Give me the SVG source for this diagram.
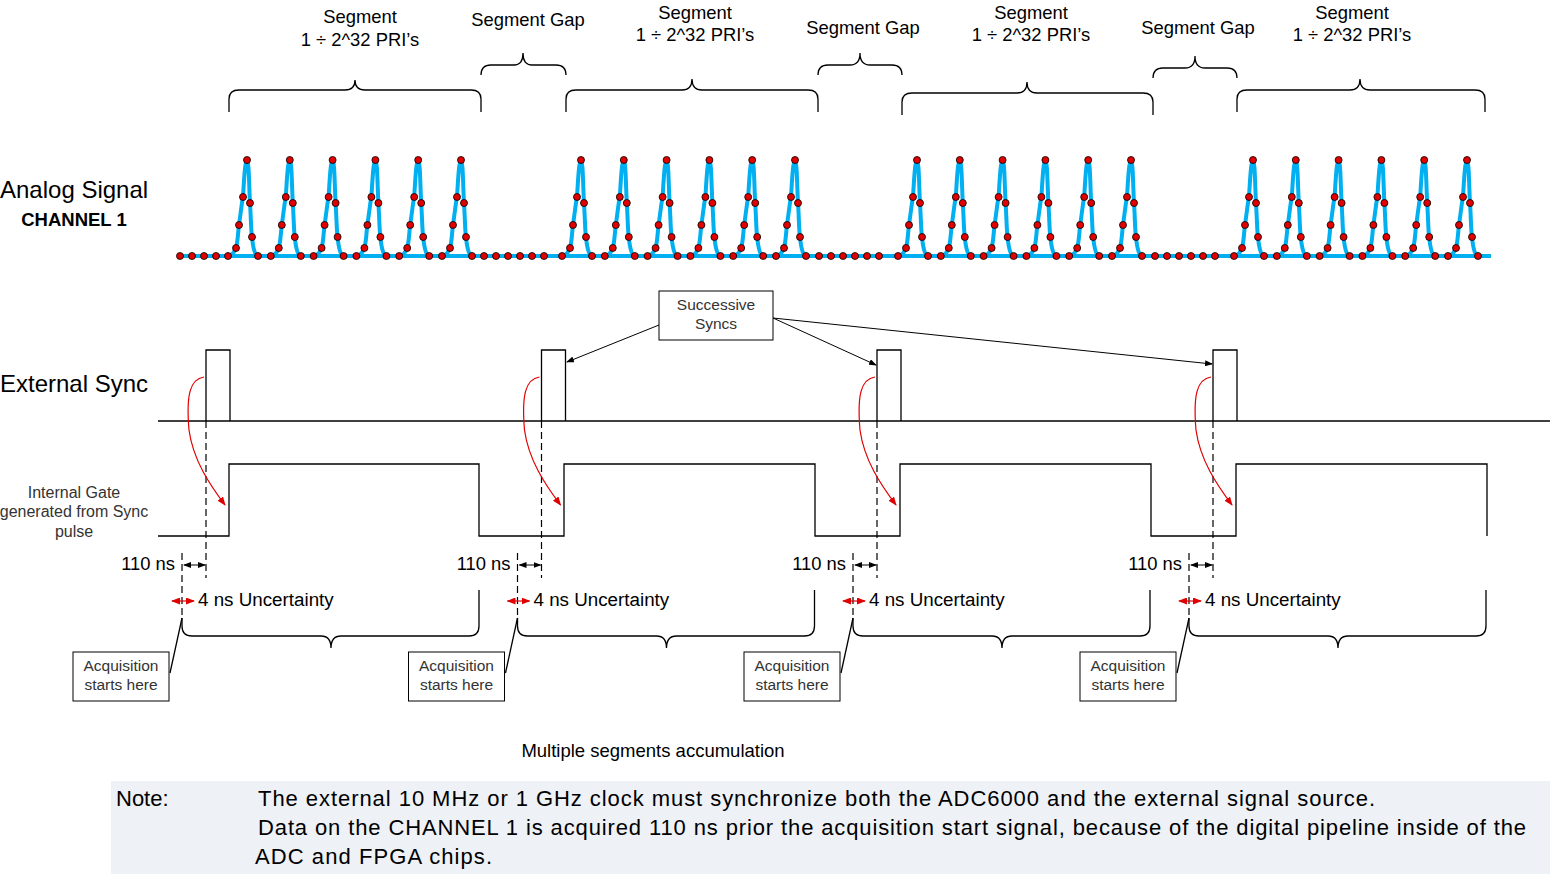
<svg xmlns="http://www.w3.org/2000/svg" xmlns:xlink="http://www.w3.org/1999/xlink" width="1550" height="874" viewBox="0 0 1550 874">
<style>
text{font-family:"Liberation Sans",Arial,sans-serif;fill:#000}
.s17{font-size:18.4px}
.s14{font-size:15.5px;fill:#333}
.ln{fill:none;stroke:#000;stroke-width:1.3}
.dash{fill:none;stroke:#000;stroke-width:1.2;stroke-dasharray:7,4}
.box{fill:#fff;stroke:#000;stroke-width:1}
.dot{fill:#e00000;stroke:#000;stroke-width:0.8}
.sig{fill:none;stroke:#00b0f0;stroke-width:4;stroke-linejoin:round}
.red{fill:none;stroke:#e00000;stroke-width:1.2}
</style>
<defs>
<marker id="ab" markerWidth="8" markerHeight="6" refX="7" refY="3" orient="auto-start-reverse" markerUnits="userSpaceOnUse"><path d="M0,0 L8,3 L0,6 z" fill="#000"/></marker>
<marker id="ar" markerWidth="9" markerHeight="7" refX="8" refY="3.5" orient="auto-start-reverse" markerUnits="userSpaceOnUse"><path d="M0,0 L9,3.5 L0,7 z" fill="#e00000"/></marker>
<g id="p">
<path class="sig" d="M-22,0 L-19,0 C-15,0 -13,-3 -11,-8 C-9,-15 -9,-25 -8,-31 C-6,-45 -5,-55 -4,-59 C-3,-75 -2,-96 0,-96 C2,-96 2,-70 3,-53 C4,-38 4,-25 5,-19 C6,-8 8,0 11,0 L24,0"/>
<circle class="dot" cx="-19" cy="0" r="3.5"/><circle class="dot" cx="-11" cy="-8" r="3.5"/><circle class="dot" cx="-8" cy="-31" r="3.5"/><circle class="dot" cx="-4" cy="-59" r="3.5"/><circle class="dot" cx="0" cy="-96" r="3.5"/><circle class="dot" cx="3" cy="-53" r="3.5"/><circle class="dot" cx="5" cy="-19" r="3.5"/><circle class="dot" cx="11" cy="0" r="3.5"/>
</g>
<g id="grp">
<use xlink:href="#p" x="0" y="256"/><use xlink:href="#p" x="42.8" y="256"/><use xlink:href="#p" x="85.6" y="256"/><use xlink:href="#p" x="128.4" y="256"/><use xlink:href="#p" x="171.2" y="256"/><use xlink:href="#p" x="214" y="256"/>
</g>
<g id="gapdots">
<circle class="dot" cx="0" cy="256" r="3.5"/><circle class="dot" cx="12" cy="256" r="3.5"/><circle class="dot" cx="24" cy="256" r="3.5"/><circle class="dot" cx="36" cy="256" r="3.5"/><circle class="dot" cx="48" cy="256" r="3.5"/><circle class="dot" cx="60" cy="256" r="3.5"/>
</g>
<g id="period">
<path class="ln" d="M206,421 V350 H230 V421"/>
<path class="dash" d="M206,421 V578"/>
<path class="dash" d="M182,553 V618"/>
<path class="ln" d="M182,618 L170,673"/>
<path class="ln" d="M479,590 V626 Q479,636 469,636 H341 Q331,636 331,648 Q331,636 321,636 H192 Q182,636 182,626 V618"/>
<rect class="box" x="73" y="652" width="96" height="49"/>
<text class="s14" x="121" y="671" text-anchor="middle">Acquisition</text>
<text class="s14" x="121" y="690" text-anchor="middle">starts here</text>
<text class="s17" x="175" y="570" text-anchor="end">110 ns</text>
<text class="s17" x="198" y="606" style="font-size:18.8px">4 ns Uncertainty</text>
<path class="ln" style="stroke-width:1" d="M184,565 H205" marker-start="url(#ab)" marker-end="url(#ab)"/>
<path class="red" d="M172,601 H194" marker-start="url(#ar)" marker-end="url(#ar)"/>
<path class="red" d="M204,377 C190,379 186,395 189,430 C193,460 210,485 225,505" marker-end="url(#ar)"/>
</g>
</defs>

<g id="labels">
<text x="0" y="198" style="font-size:24px">Analog Signal</text>
<text x="74" y="226" text-anchor="middle" style="font-size:18.5px;font-weight:bold">CHANNEL 1</text>
<text x="0" y="392" style="font-size:24px">External Sync</text>
<text class="s14" x="74" y="498" text-anchor="middle" style="font-size:16px">Internal Gate</text>
<text class="s14" x="74" y="517" text-anchor="middle" style="font-size:16px">generated from Sync</text>
<text class="s14" x="74" y="537" text-anchor="middle" style="font-size:16px">pulse</text>
</g>

<g id="segment-braces">
<path class="ln" d="M229,112 V99 Q229,90 239,90 H345 Q355,90 355,80 Q355,90 365,90 H471 Q481,90 481,99 V112"/>
<path class="ln" d="M481,75 Q481,65 491,65 H514 Q523,65 523,53 Q523,65 532,65 H556 Q566,65 566,75"/>
<path class="ln" d="M566,112 V99 Q566,90 576,90 H682 Q692,90 692,79 Q692,90 702,90 H808 Q818,90 818,99 V112"/>
<path class="ln" d="M818,75 Q818,65 828,65 H850 Q860,65 860,53 Q860,65 870,65 H892 Q902,65 902,75"/>
<path class="ln" d="M902,115 V102 Q902,93 912,93 H1017 Q1027,93 1027,82 Q1027,93 1037,93 H1143 Q1153,93 1153,102 V115"/>
<path class="ln" d="M1153,78 Q1153,68 1163,68 H1185 Q1195,68 1195,56 Q1195,68 1205,68 H1227 Q1237,68 1237,78"/>
<path class="ln" d="M1237,112 V99 Q1237,90 1247,90 H1350 Q1360,90 1360,79 Q1360,90 1370,90 H1475 Q1485,90 1485,99 V112"/>
<text class="s17" x="360" y="23" text-anchor="middle">Segment</text>
<text class="s17" x="360" y="46" text-anchor="middle">1 ÷ 2^32 PRI’s</text>
<text class="s17" x="528" y="26" text-anchor="middle">Segment Gap</text>
<text class="s17" x="695" y="19" text-anchor="middle">Segment</text>
<text class="s17" x="695" y="41" text-anchor="middle">1 ÷ 2^32 PRI’s</text>
<text class="s17" x="863" y="34" text-anchor="middle">Segment Gap</text>
<text class="s17" x="1031" y="19" text-anchor="middle">Segment</text>
<text class="s17" x="1031" y="41" text-anchor="middle">1 ÷ 2^32 PRI’s</text>
<text class="s17" x="1198" y="34" text-anchor="middle">Segment Gap</text>
<text class="s17" x="1352" y="19" text-anchor="middle">Segment</text>
<text class="s17" x="1352" y="41" text-anchor="middle">1 ÷ 2^32 PRI’s</text>
</g>

<g id="analog-signal">
<path class="sig" d="M178,256 H1490"/>
<use xlink:href="#grp" x="247"/><use xlink:href="#grp" x="581"/><use xlink:href="#grp" x="917"/><use xlink:href="#grp" x="1253"/>
<circle class="dot" cx="180" cy="256" r="3.5"/><circle class="dot" cx="192" cy="256" r="3.5"/><circle class="dot" cx="204" cy="256" r="3.5"/><circle class="dot" cx="216" cy="256" r="3.5"/>
<use xlink:href="#gapdots" x="484"/><use xlink:href="#gapdots" x="819"/><use xlink:href="#gapdots" x="1155"/>
</g>

<g id="external-sync">
<path class="ln" d="M158,421 H1550"/>
</g>
<g id="internal-gate">
<path class="ln" d="M158,536 H229 V464 H479 V536 H564 V464 H815 V536 H900 V464 H1151 V536 H1236 V464 H1487 V536"/>
</g>

<g id="periods">
<use xlink:href="#period"/>
<use xlink:href="#period" x="335.5"/>
<use xlink:href="#period" x="671"/>
<use xlink:href="#period" x="1007"/>
</g>

<g id="successive-syncs">
<rect class="box" x="659" y="291" width="114" height="49"/>
<text class="s14" x="716" y="310" text-anchor="middle">Successive</text>
<text class="s14" x="716" y="329" text-anchor="middle">Syncs</text>
</g>
<g id="connectors">
<path class="ln" style="stroke-width:1" d="M659,325 L567,362" marker-end="url(#ab)"/>
<path class="ln" style="stroke-width:1" d="M773,318 L876,365" marker-end="url(#ab)"/>
<path class="ln" style="stroke-width:1" d="M773,318 L1212,364" marker-end="url(#ab)"/>
</g>

<text x="653" y="757" text-anchor="middle" style="font-size:18.5px">Multiple segments accumulation</text>

<g id="note">
<rect x="111" y="781" width="1439" height="93" fill="#eef1f6"/>
<text x="116" y="806" style="font-size:22px">Note:</text>
<text x="258" y="806" style="font-size:22px" textLength="1117" lengthAdjust="spacing">The external 10 MHz or 1 GHz clock must synchronize both the ADC6000 and the external signal source.</text>
<text x="258" y="835" style="font-size:22px" textLength="1268" lengthAdjust="spacing">Data on the CHANNEL 1 is acquired 110 ns prior the acquisition start signal, because of the digital pipeline inside of the</text>
<text x="255" y="864" style="font-size:22px" textLength="237" lengthAdjust="spacing">ADC and FPGA chips.</text>
</g>
</svg>
